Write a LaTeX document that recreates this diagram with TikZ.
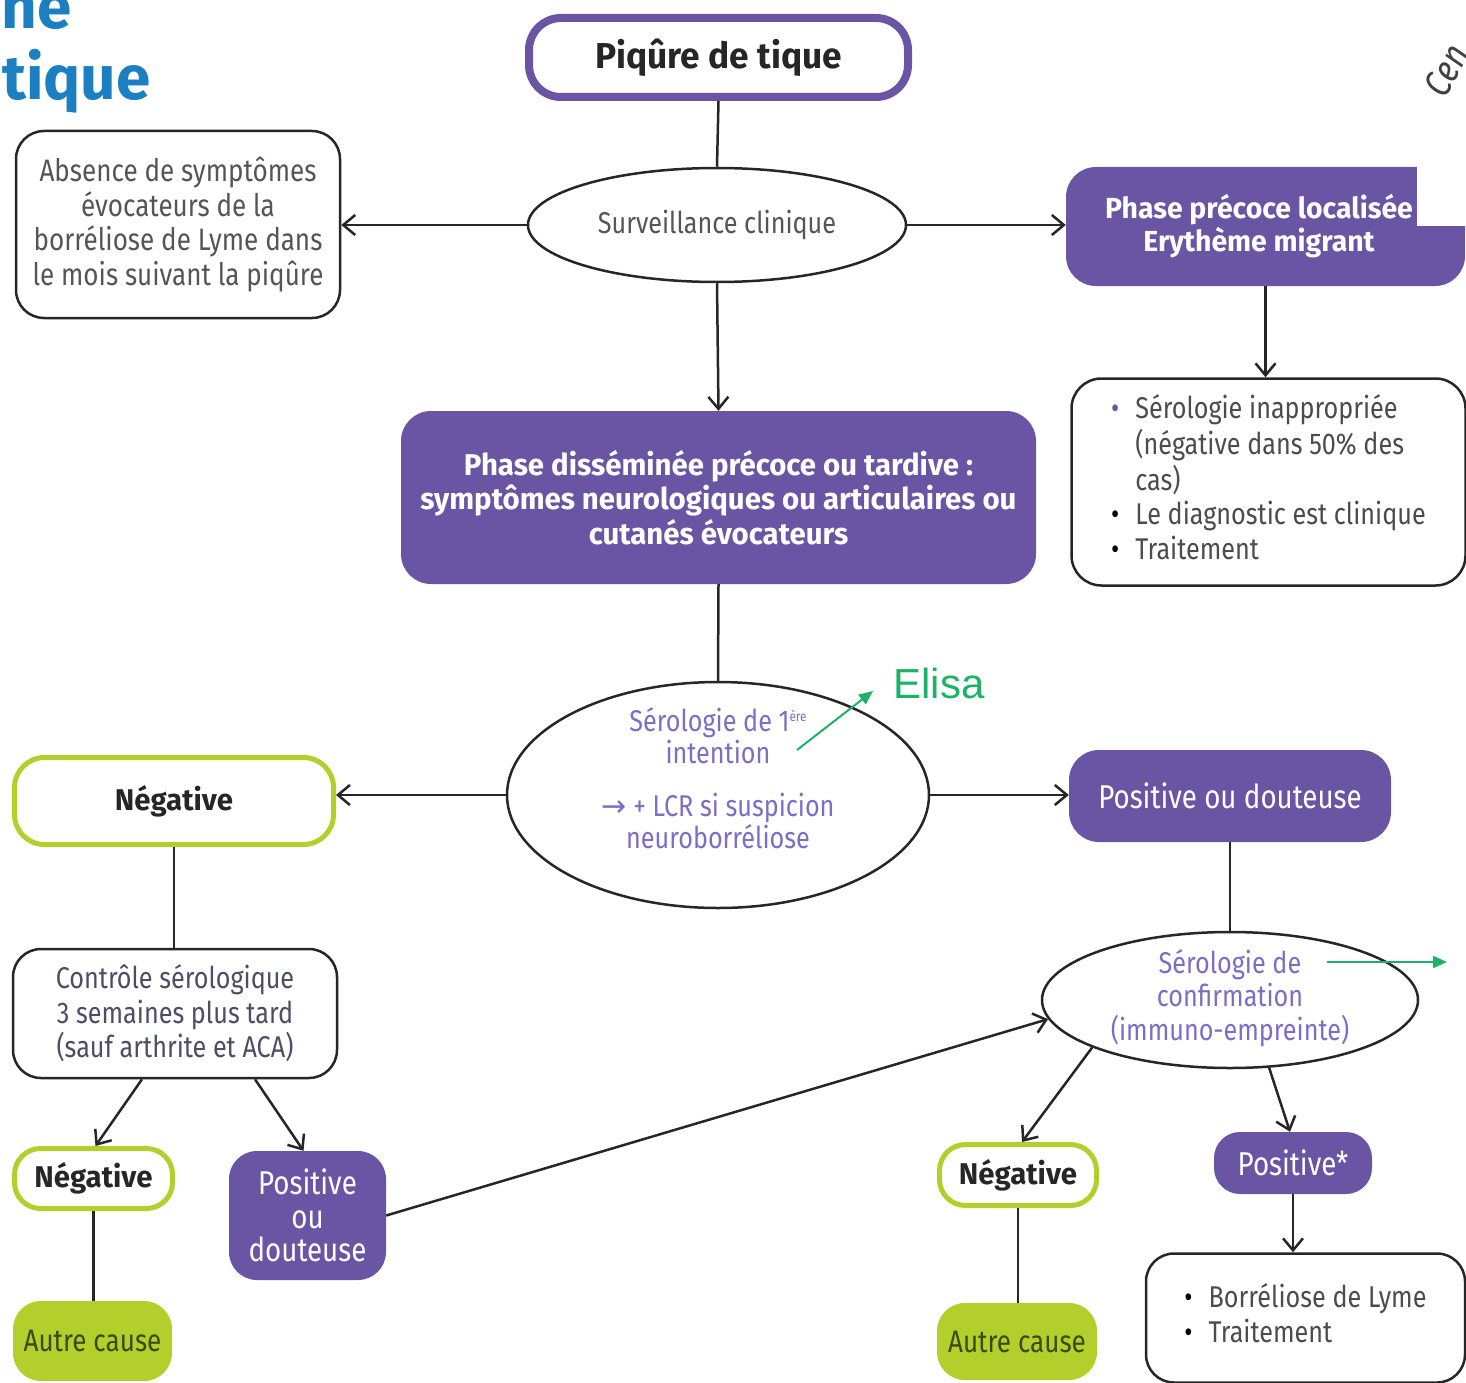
\documentclass[tikz,border=0pt]{standalone}
\usepackage{fontspec}
\setmainfont{Fira Sans}[FakeStretch=0.84]
\newfontfamily\arialfont{Liberation Sans}
\newfontfamily\titlefont{Fira Sans}
\newfontfamily\boldfam{Fira Sans}[FakeStretch=0.98]
\newfontfamily\symfont{DejaVu Sans}
\usetikzlibrary{shapes.geometric,arrows.meta}
\definecolor{pur}{HTML}{6955A3}
\definecolor{ltpur}{HTML}{7B6EC6}
\definecolor{lime}{HTML}{B4CF2C}
\definecolor{olivetxt}{HTML}{3C4A14}
\definecolor{elisa}{HTML}{1DB366}
\definecolor{tblue}{HTML}{1B7FC1}
\definecolor{txtgray}{HTML}{555555}
\definecolor{ctrlc}{HTML}{4D4D66}
\newcommand\dgbody{\fontsize{30}{34.5}\selectfont}
\newcommand\dgbold{\boldfam\bfseries\fontsize{30}{34.5}\selectfont}
\newcommand\dgwhite{\fontsize{33}{34.5}\selectfont}
\begin{document}
\begin{tikzpicture}[x=1pt,y=-1pt,
  box/.style={draw=black!85, line width=2.5pt, rounded corners=28pt, fill=white, inner sep=0pt, align=center, text=txtgray, font=\dgbody},
  pfill/.style={fill=pur, rounded corners=26pt, text=white, inner sep=0pt, align=center, font=\dgwhite},
  gbox/.style={draw=lime, line width=5pt, rounded corners=30pt, fill=white, inner sep=0pt, font=\dgbold, text=black!85},
  afill/.style={fill=lime, rounded corners=28pt, inner sep=0pt, text=olivetxt, font=\fontsize{31}{34}\selectfont},
  ell/.style={ellipse, draw=black!85, line width=2.5pt, inner sep=0pt, fill=white},
  con/.style={line width=2.5pt, draw=black!85},
  arr/.style={con, -{Straight Barb[length=12pt,width=20pt]}},
  garr/.style={draw=elisa, line width=2pt, -{Triangle[length=14pt,width=12pt]}},
  sz/.style 2 args={minimum width=#1pt, minimum height=#2pt}]
\useasboundingbox (0,0) rectangle (1466,1383);

% title fragments
\node[anchor=base east, inner sep=0pt, font=\titlefont\bfseries\fontsize{62}{62}\selectfont, text=tblue] (t1) at (72,29) {ne};
\node[anchor=base west, inner sep=0pt, font=\titlefont\bfseries\fontsize{62}{62}\selectfont, text=tblue] (t2) at (2,100) {tique};

% top
\node[draw=pur, line width=8pt, rounded corners=32pt, fill=white, sz={379}{79}, inner sep=0pt, font=\boldfam\bfseries\fontsize{36}{40}\selectfont, text=black!85] (piq) at (718.5,57.5) {Piqûre de tique};
\node[ell, sz={378}{114}] (surv) at (717,225) {};
\node[font=\dgbody, text=txtgray] (survt) at (717,225) {Surveillance clinique};
\node[box, sz={324}{187}, font=\fontsize{31}{34.5}\selectfont] (absence) at (178,224.5) {Absence de symptômes\\évocateurs de la\\borréliose de Lyme dans\\le mois suivant la piqûre};
\node[pfill, sz={399}{119}, rounded corners=30pt] (ppl) at (1265.5,226.5) {};
\node[font=\boldfam\bfseries\fontsize{29}{33}\selectfont, text=white, align=center, inner sep=0pt] (pplt) at (1259,226.5) {Phase précoce localisée\\Erythème migrant};
\fill[white] (1417,163) rectangle (1468,226);
\node[rotate=62, anchor=south west, inner sep=0pt, font=\fontsize{38}{38}\selectfont\itshape, text=black!75] (cen) at (1446,100) {Cen};

\node[box, sz={394}{207}, rounded corners=30pt, text=black!70] (sero1) at (1268.5,482) {\begin{tabular}{@{}l@{\hspace{16pt}}l@{}}\textcolor{pur}{\textbullet} & Sérologie inappropriée\\ & (négative dans 50\% des\\ & cas)\\ \textcolor{black}{\textbullet} & Le diagnostic est clinique\\ \textcolor{black}{\textbullet} & Traitement\end{tabular}};

\node[pfill, sz={635}{173}, font=\dgbold, rounded corners=30pt] (pd) at (718.5,497.5) {Phase disséminée précoce ou tardive :\\symptômes neurologiques ou articulaires ou\\cutanés évocateurs};

% middle
\node[ell, sz={422}{226}] (e2) at (718,795) {};
\node[font=\fontsize{30}{32}\selectfont, text=ltpur, align=center] (e2t) at (718,778) {Sérologie de 1{\fontsize{14}{14}\selectfont\raisebox{10pt}{ère}}\\intention\\[21pt]{\symfont →} + LCR si suspicion\\neuroborréliose};
\node[font=\arialfont\fontsize{42}{42}\selectfont, text=elisa] (elisa) at (939,683) {Elisa};
\coordinate (ga1) at (797,750);
\coordinate (ga2) at (873,691);

\node[gbox, sz={319}{87}] (neg1) at (174,801) {Négative};
\node[pfill, sz={322}{92}, rounded corners=30pt] (pos1) at (1230,796) {Positive ou douteuse};

\node[ell, sz={376}{136}] (e3) at (1230,1000) {};
\node[font=\fontsize{30}{33.5}\selectfont, text=ltpur, align=center] (e3t) at (1230,998) {Sérologie de\\confirmation\\(immuno-empreinte)};
\coordinate (gb1) at (1327,962);
\coordinate (gb2) at (1447,962);

% bottom left
\node[box, sz={324}{129}, text=ctrlc] (ctrl) at (175,1013.5) {Contrôle sérologique\\3 semaines plus tard\\(sauf arthrite et ACA)};
\node[gbox, sz={158}{60}, rounded corners=26pt] (neg2) at (93.5,1178.5) {Négative};
\node[pfill, sz={157}{129}, rounded corners=28pt, font=\fontsize{33}{33.5}\selectfont] (pos2) at (307.5,1215.5) {Positive\\ou\\douteuse};
\node[afill, sz={159}{80}] (autre1) at (92.5,1341) {Autre cause};

% bottom right
\node[gbox, sz={157}{61}, rounded corners=26pt] (neg3) at (1018,1175) {Négative};
\node[afill, sz={160}{77}] (autre2) at (1017,1341.5) {Autre cause};
\node[pfill, sz={158}{62}, rounded corners=26pt] (posstar) at (1293,1163) {Positive*};
\node[box, sz={319}{129}, text=black!70] (borr) at (1305.5,1318) {\begin{tabular}{@{}l@{\hspace{16pt}}l@{}}\textcolor{black}{\textbullet} & Borréliose de Lyme\\ \textcolor{black}{\textbullet} & Traitement\end{tabular}};

% connectors
\draw[con] (piq.south) -- (surv.north);
\draw[arr] (surv.west) -- (surv.west -| absence.east);
\draw[arr] (surv.east) -- (surv.east -| ppl.west);
\draw[arr] (surv.south) -- (pd.north);
\draw[arr] (ppl.south) -- (ppl.south |- sero1.north);
\draw[con] (pd.south) -- (e2.north);
\draw[arr] (e2.west) -- (e2.west -| neg1.east);
\draw[arr] (e2.east) -- (e2.east -| pos1.west);
\draw[con] (pos1.south) -- (pos1.south |- e3.north);
\draw[con] (neg1.south) -- (neg1.south |- ctrl.north);
\draw[arr] ([xshift=-33pt]ctrl.south) -- ([xshift=2pt]neg2.north);
\draw[arr] ([xshift=80pt]ctrl.south) -- ([xshift=-4pt]pos2.north);
\draw[arr] (pos2.east) -- (e3.186);
\draw[con] (neg2.south) -- (neg2.south |- autre1.north);
\draw[arr] (e3.199) -- ([xshift=4pt]neg3.north);
\draw[arr] (e3.300) -- ([xshift=-3pt]posstar.north);
\draw[con] (neg3.south) -- (neg3.south |- autre2.north);
\draw[arr] (posstar.south) -- (posstar.south |- borr.north);
\draw[garr] (ga1) -- (ga2);
\draw[garr] (gb1) -- (gb2);
\end{tikzpicture}
\end{document}
